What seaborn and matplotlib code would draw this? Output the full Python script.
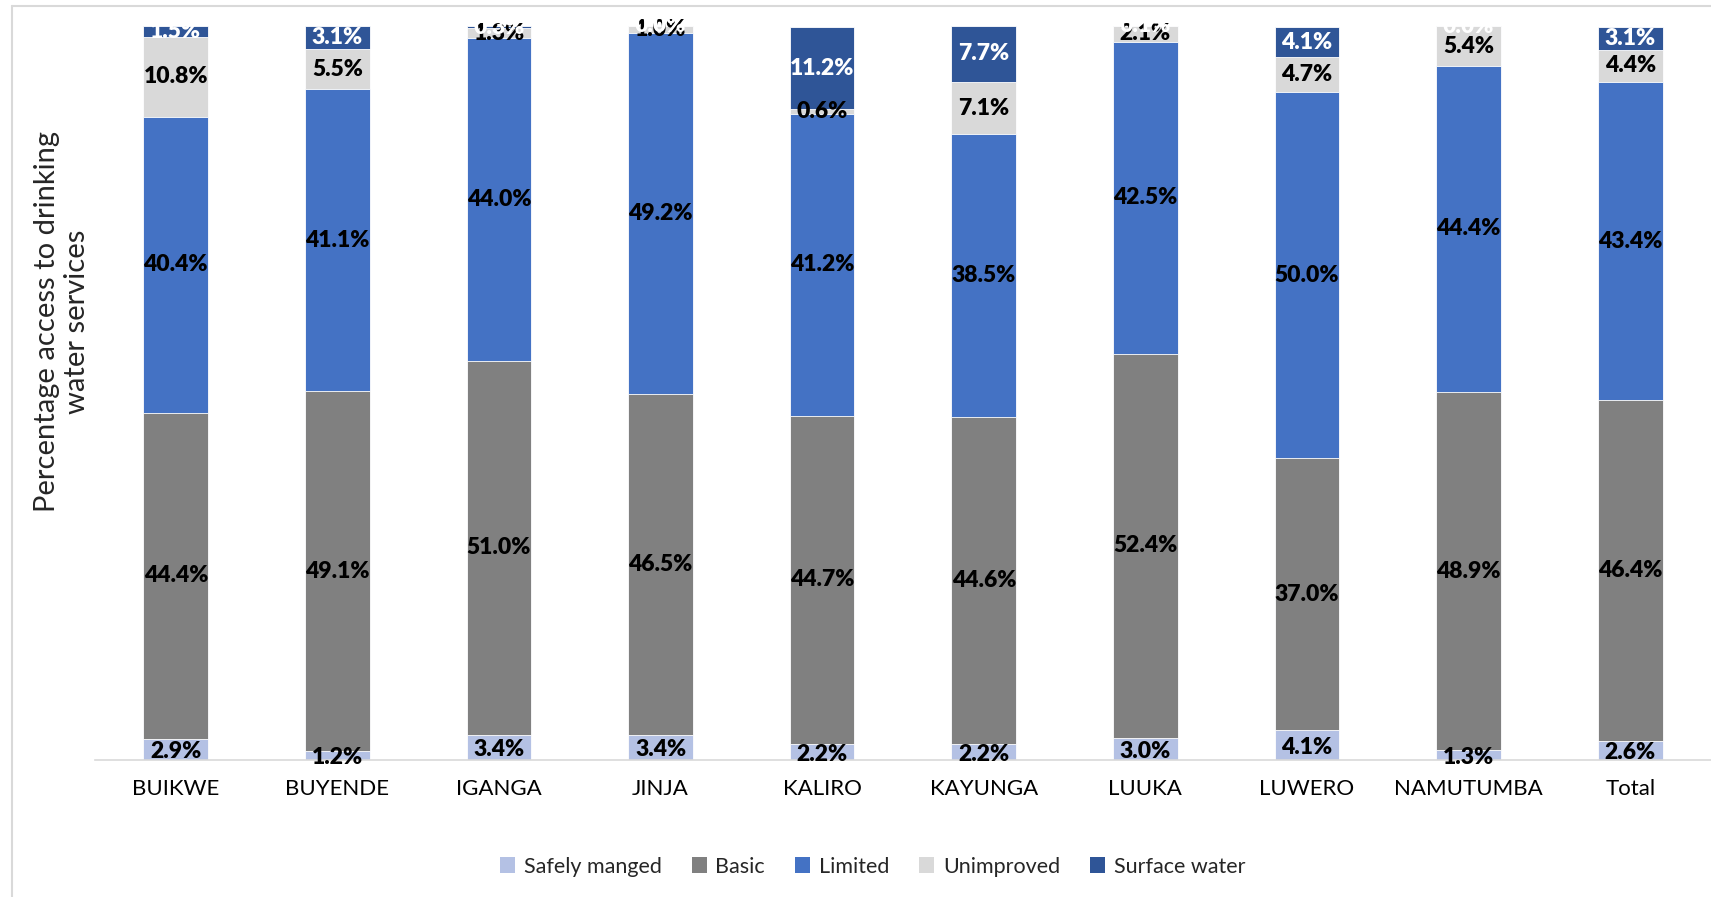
import numpy as np
import pandas as pd
import matplotlib
matplotlib.use("Agg")
import matplotlib.pyplot as plt
from matplotlib.patches import Patch
from matplotlib.lines import Line2D
import seaborn as sns

districts = ["BUIKWE", "BUYENDE", "IGANGA", "JINJA", "KALIRO", "KAYUNGA",
             "LUUKA", "LUWERO", "NAMUTUMBA", "Total"]
safely_managed = [2.9, 1.2, 3.4, 3.4, 2.2, 2.2, 3.0, 4.1, 1.3, 2.6]
basic = [44.4, 49.1, 51.0, 46.5, 44.7, 44.6, 52.4, 37.0, 48.9, 46.4]
limited = [40.4, 41.1, 44.0, 49.2, 41.2, 38.5, 42.5, 50.0, 44.4, 43.4]
unimproved = [10.8, 5.5, 1.3, 1.0, 0.6, 7.1, 2.1, 4.7, 5.4, 4.4]
surface_water = [1.5, 3.1, 0.3, 0.0, 11.2, 7.7, 0.1, 4.1, 0.0, 3.1]

series_names = ["Safely manged", "Basic", "Limited", "Unimproved", "Surface water"]
series_vals = [safely_managed, basic, limited, unimproved, surface_water]
colors = ["#B4C1E4", "#808080", "#4472C4", "#D9D9D9", "#2F5597"]
label_colors = ["black", "black", "black", "black", "white"]

sns.set_theme(style="white")
plt.rcParams["font.family"] = ["Lato", "DejaVu Sans"]

fig = plt.figure(figsize=(17.11, 8.97), dpi=100)
ax = fig.add_axes([0.0555, 0.1527, 0.9445, 0.818])

vals = np.array(series_vals)
cum = np.cumsum(vals, axis=0)

# draw from the tallest cumulative stack down so each segment shows
for i in range(len(series_names) - 1, -1, -1):
    df = pd.DataFrame({"district": districts, "value": cum[i]})
    sns.barplot(data=df, x="district", y="value", order=districts,
                color=colors[i], width=0.4, ax=ax, edgecolor="white",
                linewidth=0.6, saturation=1)

# labels
for i in range(len(series_names)):
    bottoms = cum[i] - vals[i]
    for j, d in enumerate(districts):
        yc = bottoms[j] + vals[i][j] / 2
        if i == 0:
            yc = bottoms[j] + vals[i][j] / 2 - 0.3
        ax.text(j, yc, f"{vals[i][j]:.1f}%", ha="center", va="center",
                fontsize=16.5, fontweight="heavy", color=label_colors[i])

ax.set_xlim(-0.5, 9.5)
ax.set_ylim(0, 100)
ax.set_xlabel("")
ax.set_ylabel("Percentage access to drinking\nwater services", fontsize=21)
ax.yaxis.set_label_coords(-0.003, 0.597)
ax.set_yticks([])
ax.tick_params(axis="x", length=0, labelsize=16, pad=14, colors="black")
for s in ["top", "right", "left"]:
    ax.spines[s].set_visible(False)
ax.spines["bottom"].set_color("#D9D9D9")
ax.spines["bottom"].set_linewidth(1.2)

handles = [Patch(facecolor=c, edgecolor="none", label=n)
           for n, c in zip(series_names, colors)]
fig.legend(handles=handles, loc="center", bbox_to_anchor=(0.51, 0.034),
           ncol=5, frameon=False, fontsize=15.5, handlelength=0.7,
           handleheight=0.7, handletextpad=0.4, columnspacing=1.4)

# chart-area border (left and top)
fig.add_artist(Line2D([12 / 1711, 12 / 1711], [0, 1 - 6 / 897],
                      color="#D9D9D9", lw=1.5, transform=fig.transFigure))
fig.add_artist(Line2D([12 / 1711, 1], [1 - 6 / 897, 1 - 6 / 897],
                      color="#D9D9D9", lw=1.5, transform=fig.transFigure))

fig.savefig("out.png", dpi=100)
